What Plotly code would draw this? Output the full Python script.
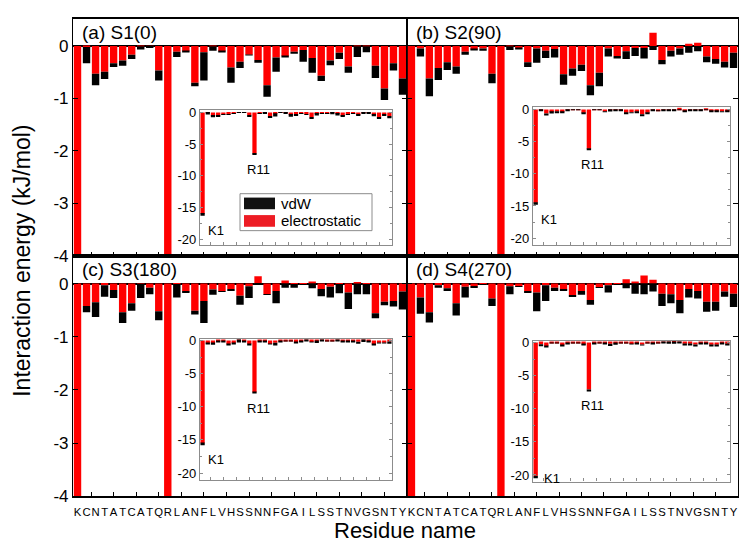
import plotly.graph_objects as go

W, H = 739, 548

residues = list("KCNTATCATQRLANFLVHSSNNFGAILSSTNVGSNTY")
positions = list(range(1, len(residues) + 1))
panel_labels = ["(a) S1(0)", "(b) S2(90)", "(c) S3(180)", "(d) S4(270)"]
main_ticks = [0, -1, -2, -3, -4]
inset_ticks = [0, -5, -10, -15, -20]

elec_a = [-16.0, -0.02, -0.53, -0.49, -0.33, -0.28, -0.17, -0.01, -0.01, -0.47,
          -6.5, -0.11, -0.10, -0.70, -0.12, -0.01, -0.10, -0.41, -0.30, -0.17,
          -0.27, -0.75, -0.22, -0.19, -0.11, -0.08, -0.23, -0.57, -0.28, -0.13,
          -0.39, -0.01, -0.01, -0.38, -0.81, -0.33, -0.62]
vdw_a = [-0.30, -0.31, -0.22, -0.14, -0.07, -0.10, -0.08, -0.06, -0.03, -0.19,
         -0.20, -0.10, -0.01, -0.07, -0.54, -0.08, -0.01, -0.29, -0.12, -0.01,
         -0.05, -0.22, -0.27, -0.02, -0.04, -0.22, -0.28, -0.10, -0.09, -0.12,
         -0.12, -0.20, -0.11, -0.23, -0.22, -0.14, -0.31]

elec_b = [-14.5, -0.05, -0.62, -0.42, -0.31, -0.39, -0.11, -0.07, -0.05, -0.53,
          -6.1, -0.01, -0.05, -0.31, -0.05, -0.09, -0.06, -0.54, -0.43, -0.36,
          -0.75, -0.51, -0.05, -0.19, -0.10, -0.04, -0.04, 0.25, -0.27, -0.09,
          -0.05, 0.04, 0.06, -0.20, -0.25, -0.30, -0.13]
vdw_b = [-0.30, -0.15, -0.34, -0.23, -0.15, -0.14, -0.06, -0.01, -0.04, -0.18,
         -0.20, -0.07, -0.02, -0.09, -0.27, -0.14, -0.16, -0.20, -0.14, -0.12,
         -0.19, -0.26, -0.15, -0.05, -0.15, -0.15, -0.20, -0.08, -0.08, -0.11,
         -0.12, -0.13, -0.10, -0.11, -0.09, -0.11, -0.29]

elec_c = [-15.5, -0.42, -0.35, -0.03, -0.12, -0.54, -0.37, 0.01, -0.08, -0.52,
          -7.8, -0.01, -0.15, -0.51, -0.33, -0.11, -0.14, -0.10, -0.23, -0.05,
          0.14, -0.20, -0.14, 0.06, -0.01, -0.01, 0.04, -0.10, -0.06, -0.01,
          -0.17, 0.03, -0.01, -0.56, -0.34, -0.33, -0.15]
vdw_c = [-0.30, -0.12, -0.28, -0.22, -0.15, -0.20, -0.14, -0.27, -0.12, -0.17,
         -0.20, -0.25, -0.02, -0.07, -0.41, -0.10, -0.01, -0.04, -0.17, -0.22,
         -0.01, -0.01, -0.23, -0.08, -0.07, -0.01, -0.09, -0.14, -0.20, -0.17,
         -0.31, -0.20, -0.19, -0.09, -0.07, -0.10, -0.34]

elec_d = [-20.1, -0.26, -0.54, -0.03, -0.09, -0.37, -0.06, -0.05, -0.01, -0.28,
          -7.1, -0.05, -0.05, -0.15, -0.17, -0.03, -0.08, -0.11, -0.22, -0.14,
          -0.31, -0.07, -0.03, -0.01, 0.08, 0.04, 0.15, 0.07, -0.19, -0.20,
          -0.31, -0.10, -0.14, -0.34, -0.34, -0.15, -0.19]
vdw_d = [-0.40, -0.31, -0.19, -0.05, -0.05, -0.23, -0.20, -0.03, -0.01, -0.14,
         -0.20, -0.15, -0.01, -0.02, -0.35, -0.30, -0.06, -0.01, -0.03, -0.07,
         -0.09, -0.01, -0.14, -0.01, -0.09, -0.19, -0.20, -0.15, -0.23, -0.17,
         -0.25, -0.16, -0.14, -0.19, -0.17, -0.10, -0.25]

panels = [(elec_a, vdw_a), (elec_b, vdw_b), (elec_c, vdw_c), (elec_d, vdw_d)]

RED = "#ff0000"
BLACK = "#000000"
GRAY = "#8c8c8c"
FONT = "Arial, Liberation Sans, sans-serif"
minor_vals = [2.5 * j for j in range(1, 15)]
inset_minor_y = [-2.5, -7.5, -12.5, -17.5]


def px_x(x):
    return x / W


def px_y(y):
    return 1 - y / H


# main panel rectangles (pixels): x0, x1, y0(top), y1(bottom)
main_rects = [(73, 407, 14, 258), (407, 738, 14, 258),
              (73, 407, 258, 505), (407, 738, 258, 505)]
# inset rectangles (pixels)
inset_rects = [(200, 392, 108, 247), (533, 730, 105, 247),
               (200, 392, 343, 488), (533, 730, 345, 490)]
inset_ranges = [[-20.95, 0.37], [-21.1, 0.35], [-21.0, 0.3], [-21.0, 0.3]]

fig = go.Figure()
layout = {}

for k, (elec, vdw) in enumerate(panels):
    mi = k + 1
    ii = k + 5
    for ax_i in (mi, ii):
        xa = "x" if ax_i == 1 else f"x{ax_i}"
        ya = "y" if ax_i == 1 else f"y{ax_i}"
        fig.add_trace(go.Bar(x=positions, y=elec, xaxis=xa, yaxis=ya,
                             marker=dict(color=RED, line=dict(width=0)),
                             showlegend=False, name="electrostatic"))
        fig.add_trace(go.Bar(x=positions, y=vdw, xaxis=xa, yaxis=ya,
                             marker=dict(color=BLACK, line=dict(width=0)),
                             showlegend=False, name="vdW"))

    x0, x1, y0, y1 = main_rects[k]
    bottom = k >= 2
    left = k % 2 == 0
    xkey = "xaxis" if mi == 1 else f"xaxis{mi}"
    ykey = "yaxis" if mi == 1 else f"yaxis{mi}"
    ya_name = "y" if mi == 1 else f"y{mi}"
    xa_name = "x" if mi == 1 else f"x{mi}"
    layout[xkey] = dict(
        domain=[px_x(x0), px_x(x1)], anchor=ya_name, range=[0.5, 37.5],
        tickmode="array", tickvals=positions,
        ticktext=residues if bottom else [""] * len(residues),
        showticklabels=bottom, ticks="", tickangle=0, ticklabelstandoff=5,
        showgrid=False, zeroline=False, showline=True, linecolor="black",
        linewidth=1.5, mirror=True,
        tickfont=dict(family=FONT, size=11.3, color="black"),
        minor=dict(tickmode="array", tickvals=minor_vals,
                   ticks="inside", ticklen=4, tickcolor="black", tickwidth=1,
                   showgrid=False),
    )
    # top ticks of main panel
    tk = 8 + mi
    layout[f"xaxis{tk}"] = dict(
        domain=[px_x(x0), px_x(x1)], anchor=ya_name, overlaying=xa_name,
        side="top", range=[0.5, 37.5], tickmode="array", tickvals=minor_vals,
        ticks="inside", ticklen=4, tickcolor="black", tickwidth=1,
        showticklabels=False, showgrid=False, zeroline=False, showline=False,
    )
    layout[ykey] = dict(
        domain=[px_y(y1), px_y(y0)], anchor=xa_name, range=[-4, 0.52],
        tickmode="array", tickvals=main_ticks,
        ticktext=[str(t) for t in main_ticks],
        showticklabels=left, ticks="inside", ticklen=5, tickcolor="black",
        mirror="allticks", showline=True, linecolor="black", linewidth=1.2,
        showgrid=False, zeroline=True, zerolinecolor="black", zerolinewidth=1.5,
        tickfont=dict(family=FONT, size=17, color="black"),
    )

    # inset axes
    ix0, ix1, iy0, iy1 = inset_rects[k]
    layout[f"xaxis{ii}"] = dict(
        domain=[px_x(ix0), px_x(ix1)], anchor=f"y{ii}", range=[0.5, 37.5],
        showticklabels=False, ticks="", showgrid=False, zeroline=False,
        showline=True, linecolor=GRAY, linewidth=1.2, mirror=True,
        minor=dict(tickmode="array", tickvals=minor_vals,
                   ticks="inside", ticklen=3, tickcolor=GRAY, tickwidth=1,
                   showgrid=False),
    )
    layout[f"xaxis{12 + mi}"] = dict(
        domain=[px_x(ix0), px_x(ix1)], anchor=f"y{ii}", overlaying=f"x{ii}",
        side="top", range=[0.5, 37.5], tickmode="array", tickvals=minor_vals,
        ticks="inside", ticklen=3, tickcolor=GRAY, tickwidth=1,
        showticklabels=False, showgrid=False, zeroline=False, showline=False,
    )
    layout[f"yaxis{ii}"] = dict(
        domain=[px_y(iy1), px_y(iy0)], anchor=f"x{ii}", range=inset_ranges[k],
        tickmode="array", tickvals=inset_ticks,
        ticktext=[str(t) for t in inset_ticks],
        ticks="inside", ticklen=3, tickcolor=GRAY, mirror="allticks",
        showline=True, linecolor=GRAY, linewidth=1.2, showgrid=False,
        zeroline=False, tickfont=dict(family=FONT, size=13, color="black"),
        minor=dict(tickmode="array", tickvals=inset_minor_y, ticks="inside",
                   ticklen=2, tickcolor=GRAY, tickwidth=1, showgrid=False),
    )

annotations = []
for k, lab in enumerate(panel_labels):
    x0, x1, y0, y1 = main_rects[k]
    annotations.append(dict(text=lab, x=px_x(x0 + 7), y=px_y(y0 + 14),
                            xref="paper", yref="paper", xanchor="left",
                            yanchor="middle", showarrow=False,
                            font=dict(family=FONT, size=19, color="black")))
    ii = k + 5
    elec, vdw = panels[k]
    for idx, name in ((0, "K1"), (10, "R11")):
        tot = elec[idx] + vdw[idx]
        if idx == 0 and k == 3:
            pos = dict(xanchor="left", yanchor="middle", xshift=6, yshift=0)
        elif idx == 0:
            pos = dict(xanchor="left", yanchor="top", xshift=3, yshift=-5)
        else:
            pos = dict(xanchor="center", yanchor="top", xshift=4, yshift=-5)
        annotations.append(dict(text=name, x=positions[idx], y=tot,
                                xref=f"x{ii}", yref=f"y{ii}", showarrow=False,
                                font=dict(family=FONT, size=13, color="black"),
                                **pos))

annotations.append(dict(text="Interaction energy (kJ/mol)", x=px_x(22), y=px_y(263),
                        xref="paper", yref="paper", textangle=-90,
                        showarrow=False, xanchor="center", yanchor="middle",
                        font=dict(family=FONT, size=23, color="black")))
annotations.append(dict(text="Residue name", x=px_x(405), y=px_y(540),
                        xref="paper", yref="paper", showarrow=False,
                        xanchor="center", yanchor="middle",
                        font=dict(family=FONT, size=22, color="black")))

# legend drawn in inset (a)
shapes = [
    dict(type="rect", xref="paper", yref="paper", x0=px_x(240), x1=px_x(372),
         y0=px_y(232), y1=px_y(194), line=dict(color=GRAY, width=1),
         fillcolor="white", layer="above"),
    dict(type="rect", xref="paper", yref="paper", x0=px_x(244), x1=px_x(275),
         y0=px_y(210), y1=px_y(198), line=dict(width=0), fillcolor="#111111",
         layer="above"),
    dict(type="rect", xref="paper", yref="paper", x0=px_x(244), x1=px_x(275),
         y0=px_y(228), y1=px_y(216), line=dict(width=0), fillcolor="#ed1c24",
         layer="above"),
]
annotations.append(dict(text="vdW", x=px_x(279), y=px_y(204), xref="paper",
                        yref="paper", xanchor="left", yanchor="middle",
                        showarrow=False, font=dict(family=FONT, size=15, color="black")))
annotations.append(dict(text="electrostatic", x=px_x(279), y=px_y(222), xref="paper",
                        yref="paper", xanchor="left", yanchor="middle",
                        showarrow=False, font=dict(family=FONT, size=15, color="black")))

fig.update_layout(
    width=W, height=H, margin=dict(l=0, r=0, t=0, b=0),
    paper_bgcolor="white", plot_bgcolor="white",
    barmode="relative", bargap=0.18,
    annotations=annotations, shapes=shapes, showlegend=False,
    **layout,
)

fig.write_html("out.html")
